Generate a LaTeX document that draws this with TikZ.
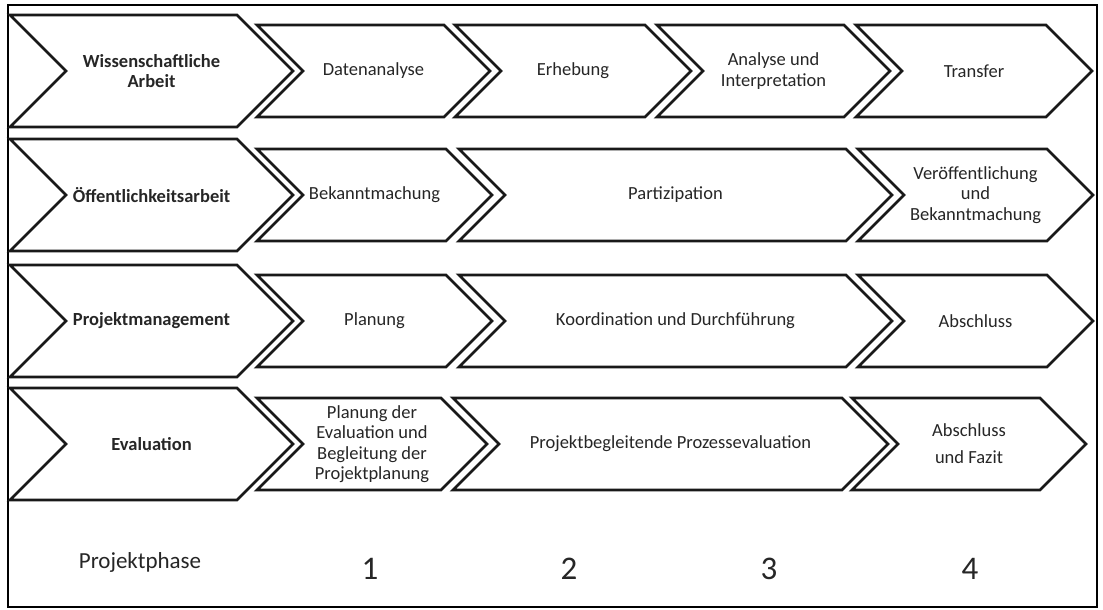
\documentclass[tikz,border=0pt]{standalone}
\usepackage{fontspec}
\setmainfont{Carlito}
\newcommand\chev[4]{% L, R, C, h
  \draw[chev] (#1,#3-#4) -- (#2,#3-#4) -- (#2+#4,#3) -- (#2,#3+#4) -- (#1,#3+#4) -- (#1+#4,#3) -- cycle;}
\begin{document}
\begin{tikzpicture}[x=1pt,y=-1pt]
\tikzset{
  chev/.style={draw=black!90, line width=2.8pt, line join=miter, fill=white},
  lbl/.style={inner sep=0pt, align=center, text=black!85, font=\fontsize{18.5}{20.5}\selectfont},
  head/.style={lbl, font=\bfseries\fontsize{18.5}{20.5}\selectfont},
  phase/.style={inner sep=0pt, text=black!85, font=\fontsize{23}{26}\selectfont},
  num/.style={inner sep=0pt, text=black!85, font=\fontsize{33}{36}\selectfont}
}
\useasboundingbox (0,0) rectangle (1103,610);
\fill[white] (0,0) rectangle (1103,610);
\draw[line width=1.3pt] (8,5) rectangle (1097,607);

% Row 1
\chev{10}{237}{71}{56}
\node[head] (wa) at (151.5,71) {Wissenschaftliche\\Arbeit};
\chev{257}{444}{71}{46}
\node[lbl] (da) at (373.5,71) {Datenanalyse};
\chev{455}{645}{71}{46}
\node[lbl] (er) at (573,71) {Erhebung};
\chev{657}{844}{71}{46}
\node[lbl] (ai) at (773.5,71) {Analyse und\\Interpretation};
\chev{856}{1046}{71}{46}
\node[lbl] (tr) at (974,71) {Transfer};

% Row 2
\chev{10}{237}{195}{56}
\node[head] (oa) at (151.5,195) {Öffentlichkeitsarbeit};
\chev{257}{446}{195}{46}
\node[lbl] (bk) at (374.5,195) {Bekanntmachung};
\chev{459}{846}{195}{46}
\node[lbl] (pa) at (675.5,195) {Partizipation};
\chev{858}{1047}{195}{46}
\node[lbl] (vb) at (975.5,195) {Veröffentlichung\\und\\Bekanntmachung};

% Row 3
\chev{10}{237}{321}{56}
\node[head] (pm) at (151.5,321) {Projektmanagement};
\chev{257}{446}{321}{46}
\node[lbl] (pl) at (374.5,321) {Planung};
\chev{459}{846}{321}{46}
\node[lbl] (kd) at (675.5,321) {Koordination und Durchführung};
\chev{858}{1047}{321}{46}
\node[lbl] (ab) at (975.5,321) {Abschluss};

% Row 4
\chev{10}{237}{444}{56}
\node[head] (ev) at (151.5,444) {Evaluation};
\chev{257}{441}{444}{46}
\node[lbl] (pe) at (372,444) {Planung der\\Evaluation und\\Begleitung der\\Projektplanung};
\chev{453}{842}{444}{46}
\node[lbl] (pp) at (670.5,444) {Projektbegleitende Prozessevaluation};
\chev{852}{1040}{444}{46}
\node[lbl, font=\fontsize{18.5}{27}\selectfont] (af) at (969,444) {Abschluss\\und Fazit};

% Phases
\node[phase] (ph) at (140,562) {Projektphase};
\node[num] (n1) at (370,569) {1};
\node[num] (n2) at (569,569) {2};
\node[num] (n3) at (769,569) {3};
\node[num] (n4) at (970,569) {4};
\end{tikzpicture}
\end{document}
